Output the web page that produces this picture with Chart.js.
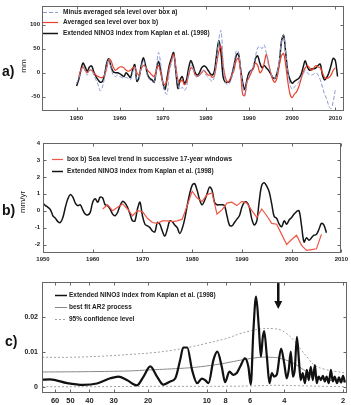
<!DOCTYPE html>
<html>
<head>
<meta charset="utf-8">
<script src="https://cdn.jsdelivr.net/npm/chart.js@4"></script>
<style>
  body { margin: 0; background: #fff; width: 351px; height: 405px; position: relative; overflow: hidden; font-family: "Liberation Sans", Arial, sans-serif; }
  .p { position: absolute; left: 0; width: 351px; }
  .tag { position: absolute; font: bold 14px "Liberation Sans", Arial, sans-serif; color: #111; line-height: 14px; }
  .yt { position: absolute; font: 8px "Liberation Sans", Arial, sans-serif; color: #222; transform: translate(-50%, -50%) rotate(-90deg); white-space: nowrap; }
</style>
</head>
<body>
<div class="p" style="top:0;height:125px"><canvas id="ca" width="351" height="125"></canvas></div>
<div class="p" style="top:135px;height:130px"><canvas id="cb" width="351" height="130"></canvas></div>
<div class="p" style="top:272px;height:133px"><canvas id="cc" width="351" height="133"></canvas></div>
<div class="tag" style="left:2px;top:64px">a)</div>
<div class="yt" style="left:23px;top:66px">mm</div>
<div class="tag" style="left:2px;top:203px">b)</div>
<div class="yt" style="left:22px;top:202px">mm/yr</div>
<div class="tag" style="left:5px;top:334px">c)</div>

<script>
// ---- panel a) : half-year steps from 1950 ----
const aStart = 1950;
const aMinusBoxA = [
  -22, -12, 0, 12, 5, -5, 5, 5, -5, -15,
  -25, -38, -30, -10, 15, 28, 10, -5, -8, -5,
  -8, -10, -12, -10, -12, -15, 0, 12, -15, -12,
  10, 25, 10, -8, -15, -18, -20, 10, 42, 20,
  -20, -40, -45, 0, 20, 35, 10, -25, -35, -30,
  -37, -30, 0, 15, 10, -5, -10, -5, 0, 5,
  -5, -10, -15, -18, -5, 30, 70, 88, 20, -20,
  -25, -22, -10, 15, 45, 45, 10, -25, -45, -20,
  -5, 5, 15, 35, 52, 55, 50, 58, 40, 15,
  0, -10, -12, 0, 25, 65, 78, 40, 0, -25,
  -35, -30, -25, -20, -10, -5, 5, 0, -5, -5,
  -3, 0, -5, -15, -30, -45, -55, -70, -75, -60,
  -35, null
];
const aBoxB = [
  null, -10, 5, 12, 5, 0, 5, 5, 0, -5,
  -8, -10, -10, -5, 10, 28, 25, 12, 5, 8,
  12, 12, 10, 5, 3, 5, 10, 12, 0, -5,
  8, 15, 12, 5, 0, -5, -8, 5, 15, 0,
  -20, -25, -15, 10, 25, 38, 15, -15, -20, -15,
  -25, -20, -5, 10, 8, -5, -8, -5, 0, 5,
  0, -5, -5, -10, -5, 20, 45, 55, 15, -10,
  -20, -15, -5, 5, 25, 30, 5, -45, -48, -20,
  -10, 0, 10, 20, 15, 0, 5, 20, 38, 20,
  0, -15, -20, -10, 15, 35, 40, 15, -20, -45,
  -52, -45, -40, -30, -15, 0, 10, 15, 10, 5,
  10, 15, 12, 10, 0, -10, -12, -10, -5, 5,
  10, null
];
const aNino3 = [
  -28, -15, 5, 20, 12, 3, 12, 14, 2, -8,
  -15, -20, -18, -5, 20, 29, 12, 2, 0, 0,
  -2, -5, -8, 0, -5, -10, 5, 17, -18, -10,
  15, 31, 15, -5, -12, -15, -20, 5, 24, 5,
  -20, -35, -10, 15, 30, 42, 5, -33, -15, -8,
  -22, -15, 10, 25, 15, 0, -5, 0, 10, 14,
  12, 5, -2, -5, 5, 40, 67, 40, -10, -20,
  -20, -18, -5, 15, 35, 40, 10, -20, -35, -15,
  0, 5, 10, 30, 35, 20, 10, 15, 10, 5,
  -2, -10, -12, 0, 20, 65, 78, 40, 0, -15,
  -22, -18, -15, -12, -5, 10, 25, 12, 5, 8,
  8, 10, 15, 18, -5, -15, -10, 0, 15, 30,
  25, -8
];
const aXTicks = [1950, 1960, 1970, 1980, 1990, 2000, 2010];
const aYTicks = [-50, 0, 50, 100];

// ---- panel b) ----
const bStart = 1950;
const bNino3 = [
  0.45, 0.3, 0.2, 0.05, -0.3, -0.45, -0.65, -0.7, -0.4, 0.2,
  0.7, 0.95, 0.8, 0.45, 0.3, 0.35, 0.05, -0.2, -0.25, -0.1,
  0.5, 0.7, 0.5, 0.8, 0.75, 0.35, 0.3, 0.1, -0.2, -0.3,
  -0.1, 0.3, 0.55, 0.45, 0.2, -0.2, -0.6, -0.6, 0.1, 0.5,
  -0.3, -0.8, -0.9, -1.0, -1.2, -1.25, -0.7, -0.8, -1.2, -1.5,
  -1.1, -0.6, -0.65, -0.85, -1.0, -1.35, -1.05, -0.5, 0.3, 1.0,
  1.5, 1.6, 1.2, 0.65, 0.35, 0.6, 1.0, 1.4, 1.2, 0.5,
  0.35, 0.35, 0.35, 0.3, -0.3, -0.85, -0.9, -0.7, -0.5, -0.3,
  0.2, 0.5, 0.5, 0.2, -0.5, -0.85, -0.6, 0.6, 1.5, 1.65,
  1.45, 1.1, 0.4, -0.35, -0.45, -0.8, -0.95, -0.6, -0.8, -0.55,
  -0.4, -0.2, -0.05, 0.0, -0.9, -1.85, -1.6, -1.75, -1.6, -1.45,
  -1.4, -1.1, -0.75, -0.85, -1.3
];
const bTrendStart = 1962;
const bTrend = [
  0.1, 0.35, 0.0, 0.2, 0.4, 0.1, -0.3, 0.0, -0.05, -0.45,
  -0.7, -0.75, -0.6, -0.6, -0.65, -0.6, -0.5, 0.3, 1.15, 0.75,
  0.55, 0.95, 1.05, -0.2, 0.05, 0.45, 0.5, 0.3, 0.55, 0.45,
  0.0, -0.4, 0.1, -0.3, -0.75, -0.8, -1.4, -2.0, -1.7, -1.45,
  -2.05, -2.35, -2.3, -2.25, -1.4
];
const bXTicks = [1950, 1960, 1970, 1980, 1990, 2000, 2010];
const bYTicks = [-2, -1, 0, 1, 2, 3, 4];

// ---- panel c) : spectrum vs period (years) ----
const cPeriod = [70, 63.6, 52, 43, 36.6, 31.3, 28.4, 25.7, 22.8, 21.1,
  19.5, 18.0, 16.7, 15.4, 14.5, 13.7, 13.2, 12.6, 11.9, 11.2,
  10.6, 10.2, 9.8, 9.25, 8.83, 8.38, 8.06, 7.66, 7.31, 7.02,
  6.75, 6.37, 6.12, 5.95, 5.77, 5.59, 5.41, 5.28, 5.16, 5.08,
  4.92, 4.77, 4.64, 4.52, 4.38, 4.16, 4.01, 3.89, 3.80, 3.71,
  3.62, 3.54, 3.45, 3.37, 3.30, 3.22, 3.14, 3.07, 3.0, 2.93,
  2.86, 2.79, 2.73, 2.67, 2.60, 2.54, 2.48, 2.43, 2.37, 2.31,
  2.26, 2.21, 2.15, 2.10, 2.05, 2.0, 1.96];
const cNino3 = [0.0021, 0.0022, 0.0011, 0.0006, 0.001, 0.0025, 0.003, 0.002, 0.0005, 0.003,
  0.0059, 0.003, 0.0007, 0.0016, 0.0025, 0.0077, 0.0113, 0.0113, 0.0049, 0.0011,
  0.0024, 0.002, 0.0011, 0.0077, 0.0101, 0.0058, 0.0014, 0.0044, 0.0035, 0.004,
  0.0058, 0.0082, 0.0058, 0.0007, 0.016, 0.0258, 0.017, 0.0087, 0.0143, 0.016,
  0.0087, 0.0011, 0.004, 0.003, 0.0035, 0.011, 0.0068, 0.0025, 0.0049, 0.0101,
  0.003, 0.0049, 0.0143, 0.0077, 0.002, 0.004, 0.0011, 0.0049, 0.002, 0.0058,
  0.002, 0.0063, 0.0011, 0.003, 0.002, 0.0032, 0.0016, 0.003, 0.0011, 0.0049,
  0.0016, 0.003, 0.0011, 0.0028, 0.0013, 0.0032, 0.0013];
const cAr2Period = [70, 40, 25, 19.5, 13, 10.8, 8.5, 7.3, 6.2, 5.3, 4.7, 4.2, 3.6, 3.07, 2.6, 2.2, 1.93];
const cAr2 = [0.0043, 0.0044, 0.0046, 0.0049, 0.0054, 0.0058, 0.0066, 0.0073, 0.008, 0.0085, 0.0085, 0.0082, 0.0068, 0.0044, 0.0025, 0.0018, 0.0016];
const cConfPeriod = [70, 50, 35, 25, 19, 15, 12, 10, 8, 6.8, 6, 5.3, 4.6, 4.2, 3.9, 3.6, 3.3, 3.0, 2.8, 2.5, 2.2, 1.93];
const cConfHi = [0.0085, 0.0085, 0.0088, 0.0093, 0.0098, 0.0105, 0.0115, 0.0125, 0.0138, 0.0152, 0.016, 0.0166, 0.0167, 0.0163, 0.0153, 0.0135, 0.0108, 0.008, 0.0062, 0.0051, 0.0045, 0.004];
const cConfLoPeriod = [70, 40, 20, 10, 6, 4.5, 3.5, 2.5, 1.93];
const cConfLo = [0.0001, 0.0001, 0.0002, 0.0002, 0.0003, 0.0005, 0.0004, 0.0002, 0.0001];
const cXTicks = [60, 50, 40, 30, 20, 10, 8, 6, 4, 2];
const cYTicks = [0, 0.01, 0.02];
const cArrow = { period: 4.3, from: 0.0297, to: 0.0223 };

const halfSteps = (start, vals) => vals.map((v, i) => ({ x: start + i * 0.5, y: v }));
const yearly = (start, vals) => vals.map((v, i) => ({ x: start + i, y: v }));
const pairs = (xs, ys) => xs.map((x, i) => ({ x: x, y: ys[i] }));

const FONT = 'Liberation Sans';
const INK = '#222';

// frame box with inward tick marks (matlab look)
const frame = {
  id: 'frame',
  afterDatasetsDraw(chart) {
    const { ctx, chartArea: a, scales } = chart;
    const L = Math.round(a.left) + 0.5, R = Math.round(a.right) - 0.5;
    const T = Math.round(a.top) + 0.5, B = Math.round(a.bottom) - 0.5;
    ctx.save();
    ctx.strokeStyle = '#666';
    ctx.lineWidth = 1;
    ctx.strokeRect(L, T, R - L, B - T);
    ctx.beginPath();
    scales.x.ticks.forEach(t => {
      const p = Math.round(scales.x.getPixelForValue(t.value)) + 0.5;
      ctx.moveTo(p, B); ctx.lineTo(p, B - 3);
      ctx.moveTo(p, T); ctx.lineTo(p, T + 3);
    });
    scales.y.ticks.forEach(t => {
      const p = Math.round(scales.y.getPixelForValue(t.value)) + 0.5;
      ctx.moveTo(L, p); ctx.lineTo(L + 3, p);
      ctx.moveTo(R, p); ctx.lineTo(R - 3, p);
    });
    ctx.stroke();
    ctx.restore();
  }
};

// legend drawn inside the plot area
const inLegend = {
  id: 'inLegend',
  afterDraw(chart, args, o) {
    if (!o.rows) return;
    const { ctx, chartArea: a } = chart;
    ctx.save();
    ctx.font = 'bold ' + o.size + 'px "' + FONT + '"';
    ctx.textBaseline = 'middle';
    o.rows.forEach(r => {
      const ds = chart.data.datasets[r.i];
      const y = Math.round(a.top + r.dy) + 0.5;
      ctx.strokeStyle = ds.borderColor;
      ctx.lineWidth = Math.min(ds.borderWidth, 1.5);
      ctx.setLineDash(ds.borderDash || []);
      ctx.beginPath();
      ctx.moveTo(a.left + o.x0, y);
      ctx.lineTo(a.left + o.x1, y);
      ctx.stroke();
      ctx.setLineDash([]);
      ctx.fillStyle = INK;
      ctx.fillText(ds.label, a.left + o.tx, y);
    });
    ctx.restore();
  }
};

const arrow = {
  id: 'arrow',
  afterDatasetsDraw(chart, args, o) {
    if (!o.period) return;
    const { ctx, scales } = chart;
    const x = scales.x.getPixelForValue(o.period);
    const y0 = scales.y.getPixelForValue(o.from);
    const y1 = scales.y.getPixelForValue(o.to);
    ctx.save();
    ctx.strokeStyle = '#111';
    ctx.fillStyle = '#111';
    ctx.lineWidth = 2.5;
    ctx.beginPath();
    ctx.moveTo(x, y0); ctx.lineTo(x, y1 - 7);
    ctx.stroke();
    ctx.beginPath();
    ctx.moveTo(x - 4, y1 - 8); ctx.lineTo(x + 4, y1 - 8); ctx.lineTo(x, y1);
    ctx.closePath();
    ctx.fill();
    ctx.restore();
  }
};

function axis(opts) {
  return {
    type: opts.type || 'linear',
    reverse: !!opts.reverse,
    min: opts.min, max: opts.max,
    grid: { display: false, drawTicks: false },
    border: { display: false },
    afterBuildTicks: s => { s.ticks = opts.ticks.map(v => ({ value: v })); },
    afterFit: s => { if (opts.w) s.width = opts.w; if (opts.h) s.height = opts.h; },
    ticks: {
      autoSkip: false, maxRotation: 0, padding: opts.pad || 3,
      color: INK,
      font: { family: FONT, size: opts.fs || 6, weight: 'bold' },
      callback: opts.fmt || (v => String(v))
    }
  };
}

function makeChart(id, datasets, scales, pad, plugOpts) {
  return new Chart(document.getElementById(id), {
    type: 'line',
    data: { datasets: datasets },
    options: {
      responsive: false,
      animation: false,
      layout: { padding: pad },
      elements: { point: { radius: 0 } },
      scales: scales,
      plugins: Object.assign({ legend: { display: false }, tooltip: { enabled: false } }, plugOpts)
    },
    plugins: [frame, inLegend, arrow]
  });
}

// a)
makeChart('ca', [
  { label: 'Minus averaged sea level over box a)', data: halfSteps(aStart, aMinusBoxA),
    borderColor: '#8e9ad2', borderWidth: 1, borderDash: [4, 2], tension: 0.35 },
  { label: 'Averaged sea level over box b)', data: halfSteps(aStart, aBoxB),
    borderColor: '#e8402a', borderWidth: 1.2, tension: 0.35 },
  { label: 'Extended NINO3 index from Kaplan et al. (1998)', data: halfSteps(aStart, aNino3),
    borderColor: '#151515', borderWidth: 1.5, tension: 0.35 }
], {
  x: axis({ min: 1942, max: 2012, ticks: aXTicks, h: 14, pad: 4 }),
  y: axis({ min: -80, max: 140, ticks: aYTicks, w: 42, pad: 2 })
}, { left: 0, right: 7, top: 3, bottom: 0 }, {
  inLegend: { size: 6.5, x0: 1, x1: 16, tx: 21, rows: [{ i: 0, dy: 6 }, { i: 1, dy: 16 }, { i: 2, dy: 27 }] }
});

// b)
makeChart('cb', [
  { label: 'box b) Sea level trend in successive 17-year windows', data: yearly(bTrendStart, bTrend),
    borderColor: '#ef5646', borderWidth: 1.2, tension: 0 },
  { label: 'Extended NINO3 index from Kaplan et al. (1998)', data: halfSteps(bStart, bNino3),
    borderColor: '#151515', borderWidth: 1.5, tension: 0.35 }
], {
  x: axis({ min: 1950, max: 2010, ticks: bXTicks, h: 12, pad: 3 }),
  y: axis({ min: -2.5, max: 4, ticks: bYTicks, w: 43, pad: 3 })
}, { left: 0, right: 7, top: 8, bottom: 0 }, {
  inLegend: { size: 6.5, x0: 9, x1: 20, tx: 24, rows: [{ i: 0, dy: 16 }, { i: 1, dy: 28 }] }
});

// c)
makeChart('cc', [
  { label: 'Extended NINO3 index from Kaplan et al. (1998)', data: pairs(cPeriod, cNino3),
    borderColor: '#111', borderWidth: 2.2, cubicInterpolationMode: 'monotone' },
  { label: 'best fit AR2 process', data: pairs(cAr2Period, cAr2),
    borderColor: '#888', borderWidth: 1, tension: 0.4 },
  { label: '95% confidence level', data: pairs(cConfPeriod, cConfHi),
    borderColor: '#a0a0a0', borderWidth: 1, borderDash: [2, 2], tension: 0.4 },
  { label: '', data: pairs(cConfLoPeriod, cConfLo),
    borderColor: '#a0a0a0', borderWidth: 1, borderDash: [2, 2], tension: 0.4 }
], {
  x: axis({ type: 'logarithmic', reverse: true, min: 1.91, max: 70, ticks: cXTicks, h: 12, pad: 3, fs: 7.5 }),
  y: axis({ min: -0.0017, max: 0.03, ticks: cYTicks, w: 42, pad: 4, fs: 7,
    fmt: v => (v === 0 ? '0' : v.toFixed(2)) })
}, { left: 0, right: 4, top: 10, bottom: 0 }, {
  inLegend: { size: 6.5, x0: 13, x1: 25, tx: 27, rows: [{ i: 0, dy: 13 }, { i: 1, dy: 25 }, { i: 2, dy: 37 }] },
  arrow: cArrow
});
</script>
</body>
</html>
